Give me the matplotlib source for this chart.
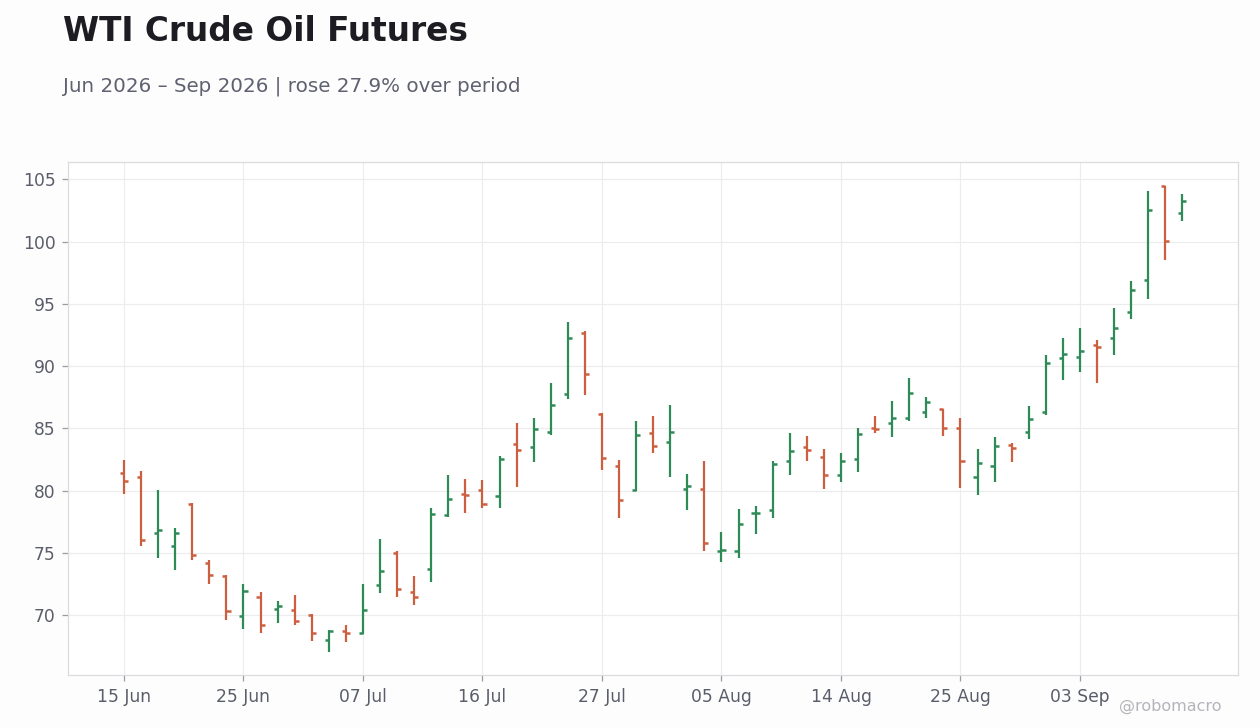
import matplotlib
matplotlib.use("Agg")
import matplotlib.pyplot as plt
import pandas as pd
import numpy as np

# ---- data ----
dates = pd.bdate_range("2026-06-15", "2026-09-14", freq="C",
                       holidays=["2026-06-19", "2026-07-03", "2026-09-07"])

opens = [81.42, 81.10, 76.60, 75.53, 78.96, 74.20, 73.16, 69.95, 71.47, 70.48,
         70.40, 70.05, 68.02, 68.74, 68.58, 72.43, 75.00, 71.87, 73.72, 78.05,
         79.76, 80.05, 79.57, 83.76, 83.52, 84.73, 87.80, 92.63, 86.18, 81.99,
         80.03, 84.65, 83.92, 80.15, 80.15, 75.16, 75.16, 78.20, 78.46, 82.40,
         83.53, 82.72, 81.27, 82.56, 85.05, 85.46, 85.86, 86.34, 86.59, 85.05,
         81.10, 81.99, 83.68, 84.73, 86.30, 90.62, 90.70, 91.67, 92.23, 94.33,
         96.91, 104.44, 102.31]
highs = [82.43, 81.55, 80.03, 76.98, 79.01, 74.41, 73.21, 72.49, 71.84, 71.12,
         71.60, 70.13, 68.80, 69.20, 72.49, 76.10, 75.13, 73.13, 78.58, 81.23,
         80.91, 80.83, 82.77, 85.43, 85.83, 88.66, 93.58, 92.85, 86.21, 82.45,
         85.59, 85.99, 86.88, 81.33, 82.37, 76.66, 78.51, 78.75, 82.37, 84.62,
         84.38, 83.34, 83.02, 85.03, 85.99, 87.20, 89.06, 87.53, 86.59, 85.83,
         83.33, 84.30, 83.82, 86.80, 90.91, 92.28, 93.09, 92.12, 94.70, 96.88,
         104.06, 104.49, 103.82]
lows = [79.71, 75.53, 74.60, 73.61, 74.41, 72.49, 69.60, 68.88, 68.58, 69.36,
        69.20, 67.94, 67.06, 67.86, 68.53, 71.79, 71.47, 70.83, 72.67, 77.89,
        78.21, 78.61, 78.60, 80.30, 82.31, 84.49, 87.39, 87.69, 81.64, 77.80,
        79.95, 83.01, 81.10, 78.46, 75.16, 74.28, 74.60, 76.53, 77.81, 81.27,
        82.40, 80.15, 80.71, 81.51, 84.65, 84.33, 85.62, 85.86, 84.41, 80.22,
        79.65, 80.70, 82.31, 84.17, 86.10, 88.92, 89.57, 88.68, 90.86, 93.76,
        95.38, 98.52, 101.67]
closes = [80.75, 76.04, 76.84, 76.60, 74.81, 73.21, 70.35, 71.95, 69.22, 70.75,
          69.52, 68.58, 68.74, 68.58, 70.40, 73.56, 72.11, 71.47, 78.13, 79.33,
          79.65, 78.93, 82.55, 83.28, 84.97, 86.88, 92.23, 89.41, 82.63, 79.25,
          84.49, 83.60, 84.73, 80.39, 75.78, 75.24, 77.33, 78.25, 82.16, 83.20,
          83.26, 81.27, 82.40, 84.57, 84.97, 85.86, 87.88, 87.15, 85.05, 82.39,
          82.23, 83.60, 83.44, 85.78, 90.25, 91.02, 91.26, 91.51, 93.04, 96.10,
          102.55, 100.05, 103.28]

yticks = [70, 75, 80, 85, 90, 95, 100, 105]
tick_every = 7

UP = "#2e8b57"
DOWN = "#cc5f3f"

# ---- figure ----
fig = plt.figure(figsize=(12.6, 7.28), dpi=100)
fig.patch.set_facecolor("#fdfdfd")
ax = fig.add_axes([68/1260, 1-675/728, (1238-68)/1260, (675-162)/728])
ax.set_facecolor("white")

x = np.arange(len(dates))
o = np.array(opens); h = np.array(highs); l = np.array(lows); c = np.array(closes)
cols = [UP if cc >= oo else DOWN for oo, cc in zip(o, c)]
tw = 0.24
ax.vlines(x, l, h, colors=cols, linewidth=1.6, zorder=3)
ax.hlines(o, x - tw, x, colors=cols, linewidth=1.8, zorder=3)
ax.hlines(c, x, x + tw, colors=cols, linewidth=1.8, zorder=3)

ax.set_xlim(-3.28, len(dates) - 1 + 3.26)
ax.set_ylim(65.2, 106.4)
ax.set_yticks(yticks)
ax.set_yticklabels([str(v) for v in yticks])
tpos = x[::tick_every]
ax.set_xticks(tpos)
ax.set_xticklabels([dates[i].strftime("%d %b") for i in tpos])

ax.grid(True, color="#ececec", linewidth=0.8, zorder=0)
ax.set_axisbelow(True)
for s in ax.spines.values():
    s.set_color("#dcdcdf")
    s.set_linewidth(0.9)
ax.tick_params(axis="both", colors="#5a5d6a", labelsize=12.3, length=4,
               width=0.9, pad=5)
ax.tick_params(axis="both", color="#9a9ca6")

fig.text(63/1260, 1-41/728, "WTI Crude Oil Futures", fontsize=23.6,
         fontweight="bold", color="#1c1c22", va="baseline", ha="left")
fig.text(63/1260, 1-92/728, "Jun 2026 \u2013 Sep 2026 | rose 27.9% over period",
         fontsize=14.35, color="#5f6170", va="baseline", ha="left")
fig.text(1221/1260, 1-711/728, "@robomacro", fontsize=11.5, color="#b4b4bb",
         va="baseline", ha="right")

fig.savefig("out.png", dpi=100, facecolor=fig.get_facecolor())
